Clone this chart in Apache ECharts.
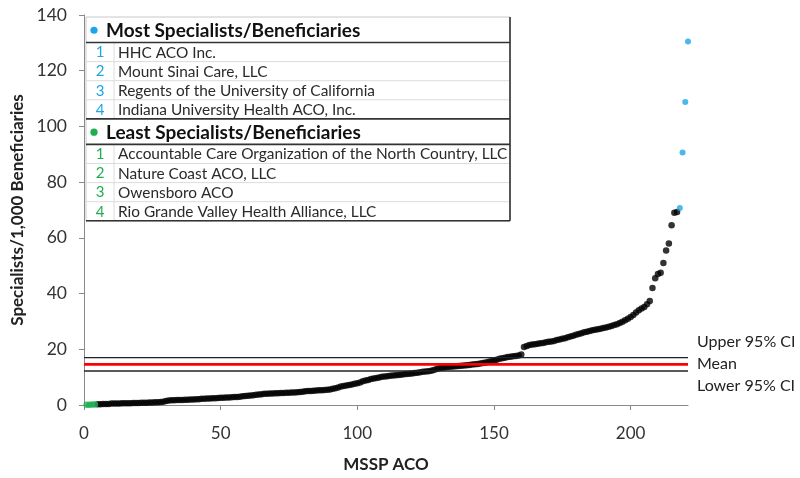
<!DOCTYPE html>
<html>
<head>
<meta charset="utf-8">
<script src="https://cdn.jsdelivr.net/npm/echarts@6/dist/echarts.min.js"></script>
<style>html,body{margin:0;padding:0;background:#fff}#c{width:800px;height:478px}</style>
</head>
<body>
<div id="c"></div>
<script>
// ---- data ----
const leastValues = [0.1, 0.1, 0.2, 0.2];
const midValues = [
  0.3,0.3,0.4,0.4,0.4,0.5,0.5,0.5,0.5,0.6,0.6,0.6,0.6,0.7,0.7,0.7,
  0.8,0.8,0.8,0.9,0.9,1.0,1.0,1.1,1.2,1.4,
  1.6,1.7,1.7,1.8,1.8,1.8,1.9,1.9,2.0,2.0,
  2.1,2.1,2.2,2.2,2.3,2.3,2.4,2.4,2.5,2.6,
  2.6,2.7,2.7,2.8,2.9,2.9,3.0,3.1,3.2,3.3,
  3.4,3.5,3.7,3.8,3.9,4.0,4.0,4.1,4.1,4.2,
  4.2,4.3,4.3,4.4,4.4,4.5,4.5,4.6,4.7,4.8,
  4.9,5.0,5.0,5.1,5.2,5.3,5.3,5.4,5.5,5.6,
  5.8,6.0,6.3,6.6,6.8,7.0,7.2,7.4,7.6,7.8,
  8.1,8.5,8.8,9.0,9.3,9.5,9.7,9.9,10.1,10.2,
  10.3,10.5,10.6,10.7,10.8,10.9,11.0,11.1,11.2,11.3,
  11.5,11.6,11.8,11.9,12.0,12.1,12.3,12.6,12.9,13.2,
  13.4,13.5,13.6,13.7,13.8,13.9,14.0,14.1,14.2,14.3,
  14.4,14.5,14.6,14.7,14.9,15.1,15.3,15.5,15.7,15.9,
  16.2,16.6,16.8,17.0,17.2,17.3,17.5,17.6,17.8,18.1,
  20.8,21.2,21.5,21.7,21.8,22.0,22.2,22.3,22.5,22.7,
  22.8,23.0,23.3,23.5,23.8,24.0,24.3,24.6,24.9,25.2,
  25.5,25.8,26.1,26.3,26.6,26.8,27.0,27.2,27.4,27.6,
  27.8,28.1,28.4,28.7,29.0,29.4,29.9,30.4,31.0,31.6,
  32.3,33.2,34.0,34.6,35.2,36.2,37.3,
  42.0,45.5,47.0,47.5,51.0,55.5,58.0,64.5,69.0,69.3
];
const mostValues = [70.7, 90.6, 108.8, 130.5];
const ciUpper = 17.0;
const ciMean = 14.6;
const ciLower = 12.2;
const xTicks = [0, 50, 100, 150, 200];
const yTicks = [0, 20, 40, 60, 80, 100, 120, 140];
const mostNames = ['HHC ACO Inc.', 'Mount Sinai Care, LLC', 'Regents of the University of California', 'Indiana University Health ACO, Inc.'];
const leastNames = ['Accountable Care Organization of the North Country, LLC', 'Nature Coast ACO, LLC', 'Owensboro ACO', 'Rio Grande Valley Health Alliance, LLC'];
const ciLabels = ['Upper 95% CI', 'Mean', 'Lower 95% CI'];

// ---- build points (rank order) ----
const all = leastValues.concat(midValues, mostValues);
const nTotal = all.length;
const leastPts = leastValues.map((v, i) => [i + 1, v]);
const midPts = midValues.map((v, i) => [leastValues.length + i + 1, v]);
const mostPts = mostValues.map((v, i) => [leastValues.length + midValues.length + i + 1, v]);

const FONT = 'Lato, "Open Sans", sans-serif';
const BLUE = '#1ea5e6';
const GREEN = '#1fae4f';

// ---- table graphic ----
const T = { left: 86, right: 510, top: 17, colX: 114 };
const headerH = 25.5, rowH = 19.1;
const g = [];
g.push({ type: 'rect', shape: { x: T.left, y: T.top, width: T.right - T.left, height: 204 }, style: { fill: '#fff', stroke: '#c8c8c8', lineWidth: 1 }, z: 10 });
function section(top, title, color, names) {
  let y = top;
  g.push({ type: 'circle', shape: { cx: 94, cy: y + headerH / 2 + 0.5, r: 3.6 }, style: { fill: color }, z: 12 });
  g.push({ type: 'text', x: 106, y: y + headerH / 2 + 1, style: { text: title, font: 'bold 19px ' + FONT, fill: '#111', verticalAlign: 'middle' }, z: 12 });
  y += headerH;
  g.push({ type: 'line', shape: { x1: T.left, y1: y, x2: T.right, y2: y }, style: { stroke: '#333', lineWidth: 1.6 }, z: 12 });
  names.forEach((nm, i) => {
    const ry = y + i * rowH;
    if (i > 0) g.push({ type: 'line', shape: { x1: T.left, y1: ry, x2: T.right, y2: ry }, style: { stroke: '#dcdcdc', lineWidth: 1 }, z: 11 });
    g.push({ type: 'text', x: 100, y: ry + rowH / 2 + 0.5, style: { text: String(i + 1), font: '15px ' + FONT, fill: color, align: 'center', verticalAlign: 'middle' }, z: 12 });
    g.push({ type: 'text', x: 118, y: ry + rowH / 2 + 0.5, style: { text: nm, font: '15.4px ' + FONT, fill: '#2a2a2a', verticalAlign: 'middle' }, z: 12 });
  });
  g.push({ type: 'line', shape: { x1: T.colX, y1: y, x2: T.colX, y2: y + names.length * rowH }, style: { stroke: '#dcdcdc', lineWidth: 1 }, z: 11 });
  return y + names.length * rowH;
}
let yEnd = section(T.top, 'Most Specialists/Beneficiaries', BLUE, mostNames);
g.push({ type: 'line', shape: { x1: T.left, y1: yEnd, x2: T.right, y2: yEnd }, style: { stroke: '#333', lineWidth: 1.6 }, z: 12 });
yEnd = section(yEnd, 'Least Specialists/Beneficiaries', GREEN, leastNames);
g.push({ type: 'line', shape: { x1: T.right, y1: T.top, x2: T.right, y2: yEnd }, style: { stroke: '#333', lineWidth: 1.6 }, z: 12 });
g.push({ type: 'line', shape: { x1: T.left, y1: yEnd, x2: T.right, y2: yEnd }, style: { stroke: '#333', lineWidth: 1.6 }, z: 12 });

const chart = echarts.init(document.getElementById('c'), null, { renderer: 'canvas' });

const ciVals = [ciUpper, ciMean, ciLower];
const ciOffsets = [-16, 0, 15];

chart.setOption({
  backgroundColor: '#fff',
  animation: false,
  grid: { left: 84, right: 112, top: 15, bottom: 71 },
  xAxis: {
    type: 'value', min: 0, max: nTotal, interval: 50,
    name: 'MSSP ACO', nameLocation: 'middle', nameGap: 51,
    nameTextStyle: { fontFamily: FONT, fontWeight: 'bold', fontSize: 17, color: '#222' },
    axisLine: { lineStyle: { color: '#8a8a8a', width: 1 } },
    axisTick: { show: true, length: 5, lineStyle: { color: '#8a8a8a' }, customValues: xTicks },
    axisLabel: { fontFamily: FONT, fontSize: 17, color: '#333', margin: 20, customValues: xTicks },
    splitLine: { show: false }
  },
  yAxis: {
    type: 'value', min: 0, max: 140, interval: 20,
    name: 'Specialists/1,000 Beneficiaries', nameLocation: 'middle', nameGap: 56, nameRotate: 90,
    nameTextStyle: { fontFamily: FONT, fontWeight: 'bold', fontSize: 17, color: '#222' },
    axisLine: { show: true, lineStyle: { color: '#8a8a8a', width: 1 } },
    axisTick: { show: true, length: 5, lineStyle: { color: '#8a8a8a' }, customValues: yTicks },
    axisLabel: { fontFamily: FONT, fontSize: 17.5, color: '#333', margin: 17, customValues: yTicks },
    splitLine: { show: false }
  },
  series: [
    { type: 'scatter', data: midPts, symbolSize: 6.5, itemStyle: { color: '#000' }, z: 2 },
    { type: 'scatter', data: leastPts, symbolSize: 6.5, itemStyle: { color: GREEN }, z: 3 },
    { type: 'scatter', data: mostPts, symbolSize: 6, itemStyle: { color: BLUE }, z: 3 }
  ].concat(ciVals.map((v, i) => ({
    type: 'line', silent: true, symbol: 'none', z: 4,
    data: [[0, v], [nTotal, v]],
    lineStyle: { color: i === 1 ? '#ff0000' : '#222', width: i === 1 ? 2.6 : 1.4 },
    endLabel: { show: true, formatter: ciLabels[i], offset: [1, ciOffsets[i]], fontFamily: FONT, fontSize: 16, color: '#222' }
  }))),
  graphic: g
});
</script>
</body>
</html>
